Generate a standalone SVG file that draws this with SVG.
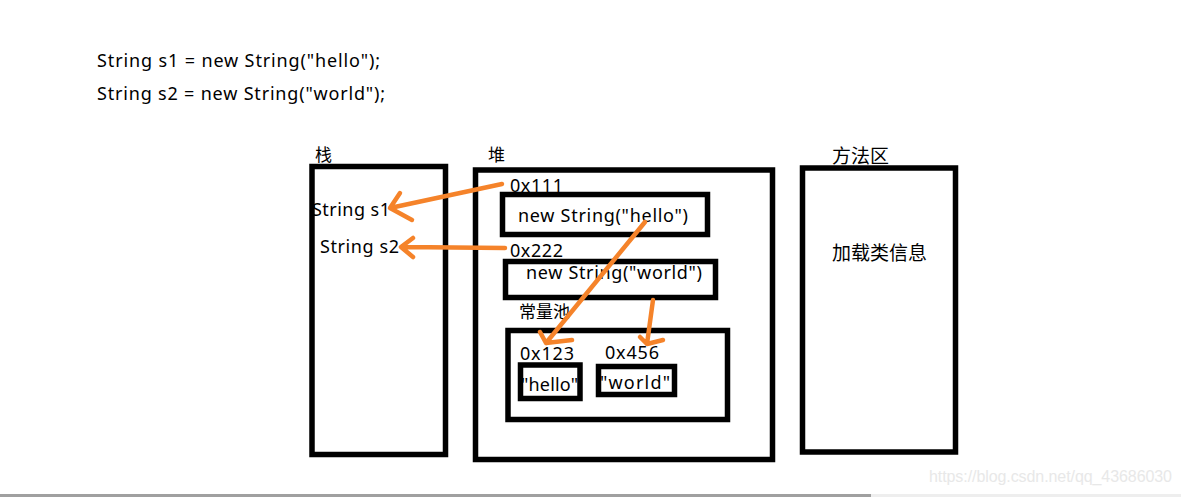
<svg xmlns="http://www.w3.org/2000/svg" width="1181" height="497" viewBox="0 0 1181 497">
<style>
.box{fill:none;stroke:#000;stroke-width:5.5}
.t{font-family:"Noto Sans","Noto Sans CJK SC",sans-serif;font-size:18px;fill:#000}
.c{font-family:"Noto Sans CJK SC","Noto Sans",sans-serif;font-size:17px;fill:#000}
.cl{font-family:"Noto Sans CJK SC","Noto Sans",sans-serif;font-size:19px;fill:#000}
.ar{fill:none;stroke:#f5832a;stroke-width:4.5;stroke-linecap:round;stroke-linejoin:round}
</style>
<rect width="1181" height="497" fill="#fff"/>
<g id="code">
<text class="t" x="97" y="67" textLength="283">String s1 = new String("hello");</text>
<text class="t" x="97" y="100" textLength="288">String s2 = new String("world");</text>
</g>
<g id="stack">
<text class="c" x="315" y="161">栈</text>
<rect class="box" x="312" y="166.5" width="133.5" height="288"/>
<text class="t" x="312" y="216" textLength="78">String s1</text>
<text class="t" x="320" y="253" textLength="79">String s2</text>
</g>
<g id="heap">
<text class="c" x="488" y="161">堆</text>
<rect class="box" x="475.5" y="170" width="297" height="289.5"/>
<text class="t" x="510" y="192" textLength="53">0x111</text>
<text class="t" x="510" y="257" textLength="53">0x222</text>
</g>
<g id="obj-hello">
<rect class="box" x="502.5" y="194.5" width="205" height="40"/>
<text class="t" x="518" y="222" textLength="170">new String("hello")</text>
</g>
<g id="obj-world">
<rect class="box" x="505.5" y="261.5" width="210" height="36"/>
<text class="t" x="526" y="279" textLength="176">new String("world")</text>
</g>
<g id="pool">
<text class="c" x="519" y="318">常量池</text>
<rect class="box" x="508" y="330.5" width="219.5" height="89"/>
<text class="t" x="520" y="360" textLength="54">0x123</text>
<text class="t" x="605" y="359" textLength="54">0x456</text>
</g>
<g id="lit-hello">
<rect class="box" x="520.5" y="365" width="59.5" height="33.5"/>
<text class="t" x="521" y="391" textLength="57">"hello"</text>
</g>
<g id="lit-world">
<rect class="box" x="598.5" y="366.5" width="76" height="28"/>
<text class="t" x="600" y="389" textLength="70">"world"</text>
</g>
<g id="method">
<text class="cl" x="832" y="163">方法区</text>
<rect class="box" x="802.5" y="168" width="153" height="284"/>
<text class="cl" x="832" y="260">加载类信息</text>
</g>
<g id="connectors">
<path class="ar" d="M502,184 L390,208 M400,193 L390,208 L412,220"/>
<path class="ar" d="M505,248 L403,247 M413,238 L401,247 L413,257"/>
<path class="ar" d="M645,222 L546,343 M540,332 L546,343 L572,340"/>
<path class="ar" d="M653,300 L647,344 M640,337 L647,344 L663,340"/>
</g>
<g id="footer">
<text x="929" y="482" font-family="Liberation Sans,Arial,sans-serif" font-size="16" fill="#e8e8e8" textLength="243">https://blog.csdn.net/qq_43686030</text>
<rect x="0" y="494" width="871" height="3" fill="#a0a0a0"/>
<rect x="871" y="494" width="310" height="3" fill="#eeeeee"/>
</g>
</svg>
